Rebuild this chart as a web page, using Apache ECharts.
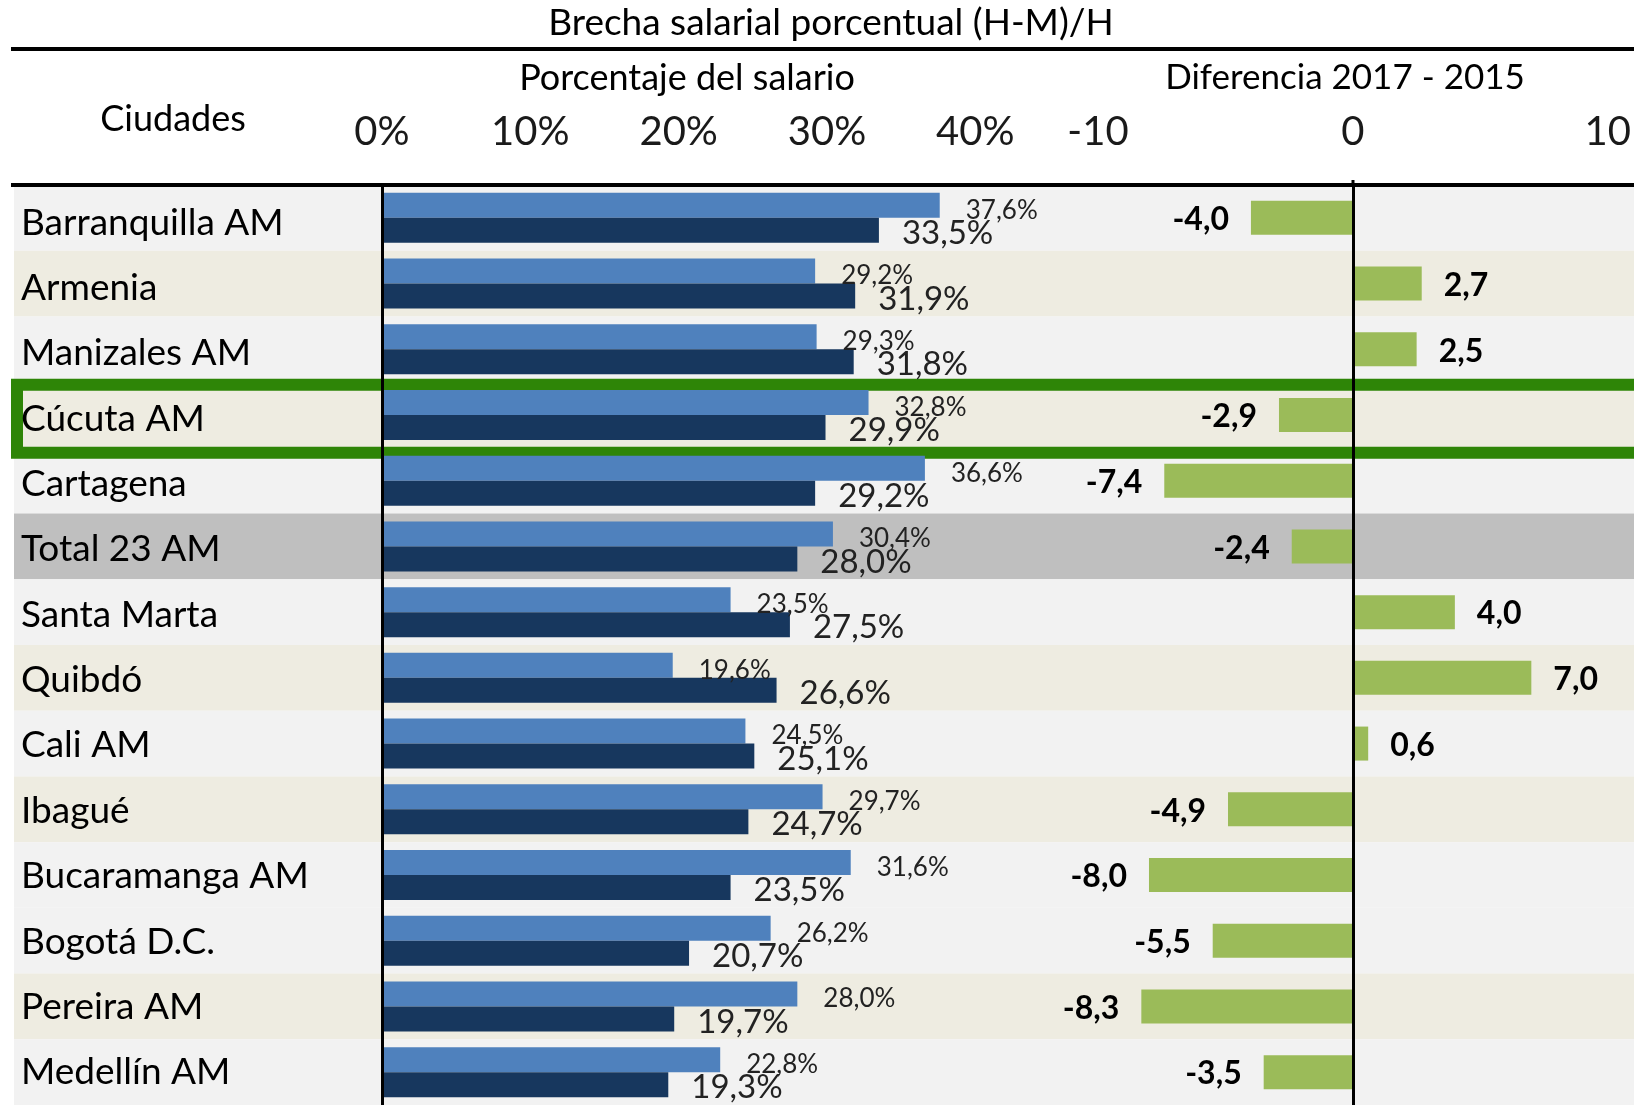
<!DOCTYPE html>
<html>
<head>
<meta charset="utf-8">
<title>Brecha salarial porcentual (H-M)/H</title>
<script src="https://cdn.jsdelivr.net/npm/echarts@6.0.0/dist/echarts.min.js"></script>
<style>
  html, body { margin: 0; padding: 0; background: #fff; }
  #chart { width: 1634px; height: 1105px; }
</style>
</head>
<body>
<div id="chart"></div>
<script>
// datos
const cities = ['Barranquilla AM', 'Armenia', 'Manizales AM', 'Cúcuta AM', 'Cartagena', 'Total 23 AM',
  'Santa Marta', 'Quibdó', 'Cali AM', 'Ibagué', 'Bucaramanga AM', 'Bogotá D.C.', 'Pereira AM', 'Medellín AM']
const gap2015 = [37.6, 29.2, 29.3, 32.8, 36.6, 30.4, 23.5, 19.6, 24.5, 29.7, 31.6, 26.2, 28.0, 22.8]
const gap2017 = [33.5, 31.9, 31.8, 29.9, 29.2, 28.0, 27.5, 26.6, 25.1, 24.7, 23.5, 20.7, 19.7, 19.3]
const diff = [-4.0, 2.7, 2.5, -2.9, -7.4, -2.4, 4.0, 7.0, 0.6, -4.9, -8.0, -5.5, -8.3, -3.5]
const highlightCity = 'Cúcuta AM'

// estilos de filas
const GRAY = '#f2f2f2'
const TAN = '#eeece1'
const TOTAL = '#bfbfbf'
const rowColors = [GRAY, TAN, GRAY, TAN, GRAY, TOTAL, GRAY, TAN, GRAY, TAN, GRAY, GRAY, TAN, GRAY]

const FONT = 'Lato, "Open Sans", sans-serif'
const TOP = 185
const ROW_H = 66
const plotH = ROW_H * cities.length

const fmt = (v, suffix) => v.toFixed(1).replace('.', ',') + (suffix || '')

const chart = echarts.init(document.getElementById('chart'))

const headerText = (text, x, y, size) => ({
  type: 'text',
  x: x,
  y: y,
  style: { text: text, fontSize: size, fontFamily: FONT, fill: '#000', align: 'center', verticalAlign: 'middle' }
})

chart.setOption({
  animation: false,
  textStyle: { fontFamily: FONT },
  grid: [
    { left: 14, right: 0, top: TOP, height: plotH },
    { left: 382, width: 667.5, top: TOP, height: plotH },
    { left: 1098, width: 510, top: TOP, height: plotH },
    { left: 11, right: 0, top: TOP + 5, height: plotH } // recuadro y nombres
  ],
  xAxis: [
    { gridIndex: 0, type: 'value', min: 0, max: 1, show: false },
    {
      gridIndex: 1, type: 'value', position: 'top', min: 0, max: 45, interval: 10,
      axisLine: { show: false }, axisTick: { show: false }, splitLine: { show: false },
      axisLabel: { formatter: '{value}%', fontSize: 40, color: '#1a1a1a', margin: 33, showMaxLabel: false }
    },
    {
      gridIndex: 2, type: 'value', position: 'top', min: -10, max: 10, interval: 10,
      axisLine: { show: false }, axisTick: { show: false }, splitLine: { show: false },
      axisLabel: { fontSize: 40, color: '#1a1a1a', margin: 33 }
    },
    { gridIndex: 3, type: 'value', min: 0, max: 0.9, show: false }
  ],
  yAxis: [
    { gridIndex: 0, type: 'category', data: cities, inverse: true, show: false },
    {
      gridIndex: 1, type: 'category', data: cities, inverse: true, z: 5,
      axisLine: { lineStyle: { color: '#000', width: 3 } },
      axisTick: { show: false },
      axisLabel: { show: false }
    },
    {
      gridIndex: 2, type: 'category', data: cities, inverse: true, z: 5,
      axisLine: { onZero: true, lineStyle: { color: '#000', width: 3 } },
      axisTick: { show: false },
      axisLabel: { show: false }
    },
    {
      gridIndex: 3, type: 'category', data: cities, inverse: true, z: 5,
      axisLine: { show: false }, axisTick: { show: false },
      axisLabel: { inside: true, margin: 10, align: 'left', fontSize: 37, color: '#000' }
    }
  ],
  series: [
    {
      // fondo de filas
      type: 'bar', xAxisIndex: 0, yAxisIndex: 0, silent: true, z: 0,
      barWidth: '100%',
      data: cities.map((c, i) => ({ value: 1, itemStyle: { color: rowColors[i] } }))
    },
    {
      // recuadro de la ciudad destacada
      type: 'bar', xAxisIndex: 3, yAxisIndex: 3, silent: true, z: 1, clip: false,
      barWidth: 80,
      itemStyle: { color: 'rgba(0,0,0,0)', borderColor: '#2e8507', borderWidth: 12 },
      data: cities.map(c => (c === highlightCity ? 1 : '-'))
    },
    {
      name: '2015', type: 'bar', xAxisIndex: 1, yAxisIndex: 1,
      barWidth: 25, barGap: 0,
      itemStyle: { color: '#4f81bd' },
      label: {
        show: true, position: 'right', distance: 26, offset: [0, 5],
        fontSize: 26, color: '#222', formatter: p => fmt(p.value, '%')
      },
      data: gap2015
    },
    {
      name: '2017', type: 'bar', xAxisIndex: 1, yAxisIndex: 1,
      barWidth: 25, barGap: 0,
      itemStyle: { color: '#17375e' },
      label: {
        show: true, position: 'right', distance: 23, offset: [0, 3],
        fontSize: 33, color: '#222', formatter: p => fmt(p.value, '%')
      },
      data: gap2017
    },
    {
      name: 'Diferencia', type: 'bar', xAxisIndex: 2, yAxisIndex: 2,
      barWidth: 34,
      itemStyle: { color: '#9bbb59' },
      label: {
        show: true, distance: 22, fontSize: 32, fontWeight: 'bold', color: '#000',
        offset: [0, 2], formatter: p => fmt(p.value)
      },
      data: diff.map(v => ({ value: v, label: { position: v < 0 ? 'left' : 'right' } }))
    }
  ],
  graphic: [
    { type: 'line', shape: { x1: 11, y1: 49, x2: 1634, y2: 49 }, style: { stroke: '#000', lineWidth: 4 } },
    { type: 'line', shape: { x1: 11, y1: 185, x2: 1634, y2: 185 }, style: { stroke: '#000', lineWidth: 4 }, z: 10 },
    { type: 'line', shape: { x1: 1353, y1: 180, x2: 1353, y2: 186 }, style: { stroke: '#000', lineWidth: 3 }, z: 10 },
    headerText('Brecha salarial porcentual (H-M)/H', 831, 23, 37),
    headerText('Porcentaje del salario', 687, 78, 36),
    headerText('Diferencia 2017 - 2015', 1345, 78, 35),
    headerText('Ciudades', 173, 119, 36)
  ]
})
</script>
</body>
</html>
